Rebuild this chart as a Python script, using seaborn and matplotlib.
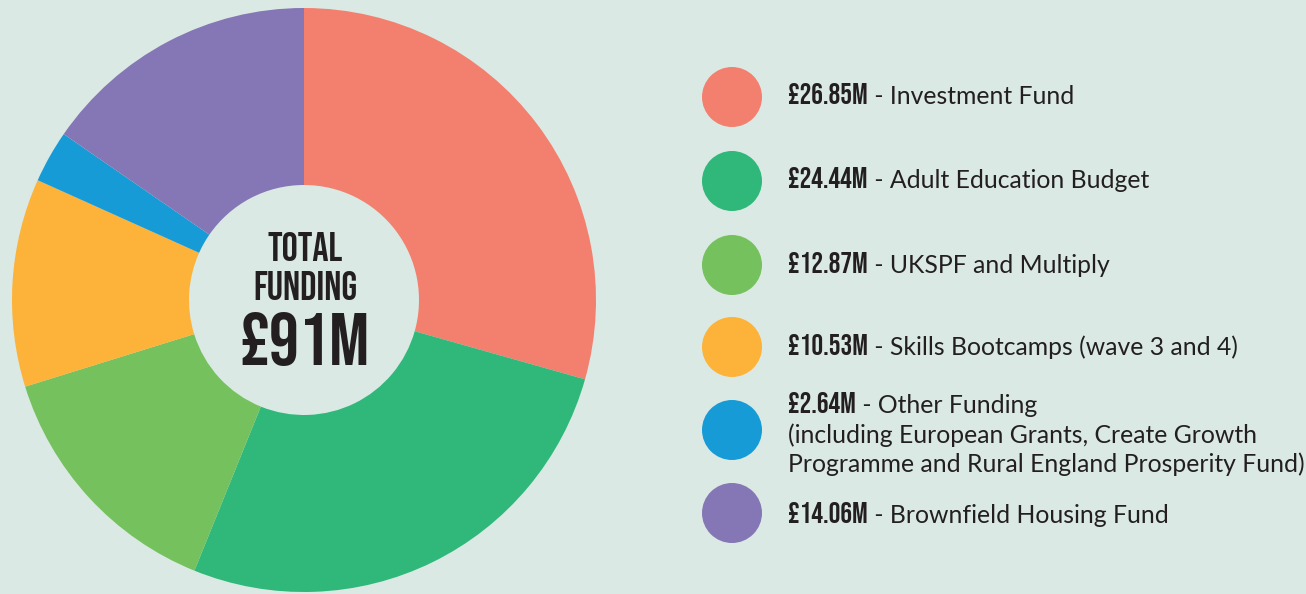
import numpy as np
import pandas as pd
import matplotlib
matplotlib.use('Agg')
import matplotlib.pyplot as plt
import seaborn as sns

# dados do grafico
amounts = [26.85, 24.44, 12.87, 10.53, 2.64, 14.06]
amount_labels = ['£26.85M', '£24.44M', '£12.87M', '£10.53M', '£2.64M', '£14.06M']
descriptions = [
    ['Investment Fund'],
    ['Adult Education Budget'],
    ['UKSPF and Multiply'],
    ['Skills Bootcamps (wave 3 and 4)'],
    ['Other Funding', '(including European Grants, Create Growth',
     'Programme and Rural England Prosperity Fund)'],
    ['Brownfield Housing Fund'],
]
colors = ['#F3806F', '#2FB87A', '#74C15E', '#FDB239', '#179BD7', '#8576B5']
center_lines = ['TOTAL', 'FUNDING', '£91M']

bg = '#DAE9E3'
ink = '#231F20'
bold_font = ['Bebas Neue', 'DejaVu Sans']
body_font = ['Lato', 'DejaVu Sans']

sns.set_theme(style='white')
plt.rcParams['font.family'] = body_font

W, H = 1306, 594
fig = plt.figure(figsize=(W / 100, H / 100), dpi=100, facecolor=bg)
ax = fig.add_axes([0, 0, 1, 1])
ax.set_facecolor(bg)

# donut
outer_r = 292
inner_r = 115
ax.pie(amounts, colors=colors, startangle=90, counterclock=False,
       center=(304, H - 300), radius=outer_r,
       wedgeprops=dict(width=outer_r - inner_r, linewidth=0))

# texto central
ax.text(305, H - 261, center_lines[0], family=bold_font,
        fontsize=29, color=ink, ha='center', va='baseline')
ax.text(305, H - 300, center_lines[1], family=bold_font,
        fontsize=29, color=ink, ha='center', va='baseline')
ax.text(305, H - 365, center_lines[2], family=bold_font,
        fontsize=54, color=ink, ha='center', va='baseline')

# legenda: circulos
leg = pd.DataFrame({
    'x': [732] * 6,
    'y': [H - v for v in [97, 181, 265, 347, 430, 513]],
    'item': amount_labels,
})
sns.scatterplot(data=leg, x='x', y='y', hue='item', palette=colors,
                s=43.2 ** 2, linewidth=0, legend=False, ax=ax)
ax.set_xlim(0, W)
ax.set_ylim(0, H)
ax.set_aspect('equal')
ax.axis('off')

# legenda: textos
baselines = [[104], [188], [273], [355], [413, 443, 472], [523]]
renderer = fig.canvas.get_renderer()
inv = ax.transData.inverted()
x0 = 788
for lab, desc, bl in zip(amount_labels, descriptions, baselines):
    t = ax.text(x0, H - bl[0], lab, family=bold_font,
                fontsize=21, color=ink, ha='left', va='baseline')
    bb = t.get_window_extent(renderer)
    x1 = inv.transform((bb.x1, bb.y0))[0]
    ax.text(x1, H - bl[0], ' - ' + desc[0], fontsize=17.8, color=ink,
            ha='left', va='baseline')
    for line, b in zip(desc[1:], bl[1:]):
        ax.text(x0, H - b, line, fontsize=17.8, color=ink,
                ha='left', va='baseline')

plt.savefig('out.png', dpi=100, facecolor=bg)
